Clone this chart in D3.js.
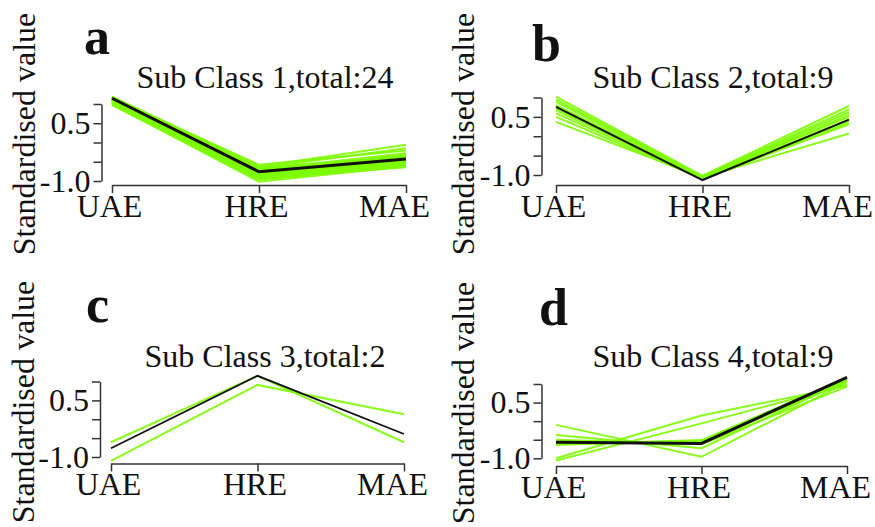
<!DOCTYPE html>
<html>
<head>
<meta charset="utf-8">
<script src="https://cdn.jsdelivr.net/npm/d3@7"></script>
<style>
  body { margin: 0; background: #fff; }
  svg { display: block; }
</style>
</head>
<body>
<div id="chart"></div>
<script>
// categories on the x axis
const categories = ['UAE', 'HRE', 'MAE'];
const yTicks = [-1, -0.5, 0, 0.5, 1];
const yTickLabels = { '0.5': '0.5', '-1': '-1.0' };

const titles = ['Sub Class 1,total:24', 'Sub Class 2,total:9', 'Sub Class 3,total:2', 'Sub Class 4,total:9'];
const panelLetters = ['a', 'b', 'c', 'd'];

// sub class 1 : 24 members, values read as [UAE, HRE, MAE]
const class1Lines = [
  [1.19, -0.62, -0.06], [1.17, -0.66, -0.15], [1.16, -0.58, -0.21], [1.15, -0.70, -0.28],
  [1.14, -0.74, -0.33], [1.13, -0.68, -0.37], [1.12, -0.77, -0.40], [1.11, -0.72, -0.42],
  [1.10, -0.80, -0.44], [1.09, -0.76, -0.45], [1.08, -0.83, -0.47], [1.07, -0.78, -0.49],
  [1.06, -0.85, -0.50], [1.05, -0.81, -0.52], [1.04, -0.90, -0.54], [1.03, -0.87, -0.56],
  [1.02, -0.93, -0.58], [1.00, -0.97, -0.60], [0.99, -1.02, -0.62], [0.97, -0.95, -0.64],
  [1.18, -0.65, -0.38], [1.13, -0.73, -0.46], [1.08, -0.79, -0.51], [1.01, -0.84, -0.30]
];
const class1Center = [1.15, -0.76, -0.43];

// sub class 2 : 9 members
const class2Lines = [
  [1.02, -1.02, 0.78], [0.95, -1.04, 0.69], [0.89, -1.05, 0.62],
  [0.80, -1.06, 0.55], [0.72, -1.07, 0.50], [0.67, -1.08, 0.42],
  [0.59, -1.09, 0.36], [0.50, -1.10, 0.31], [0.37, -1.06, 0.07]
];
const class2Center = [0.76, -1.13, 0.43];

// sub class 3 : 2 members
const class3Lines = [
  [-0.61, 1.15, -0.61],
  [-1.10, 0.91, 0.13]
];
const class3Center = [-0.77, 1.15, -0.39];

// sub class 4 : 9 members
const class4Lines = [
  [-0.10, -0.96, 1.05], [-0.37, -0.73, 1.10], [-0.64, -0.51, 1.15],
  [-1.00, 0.15, 0.95], [-1.06, -0.06, 0.98], [-0.57, -0.55, 1.18],
  [-0.55, -0.60, 1.12], [-0.60, -0.58, 1.08], [-0.50, -0.62, 0.93]
];
const class4Center = [-0.57, -0.60, 1.18];

const allLines = [class1Lines, class2Lines, class3Lines, class4Lines];
const allCenters = [class1Center, class2Center, class3Center, class4Center];

// layout of each panel (pixels)
const layout = [
  { x0: 112, x1: 406, axisY: 185, axisX: 101.5, yTop: 104, yBot: 181, titleX: 265, titleY: 88, letterX: 84, letterY: 54, labelX: 35, labelY: 134, centerW: 3 },
  { x0: 556, x1: 849, axisY: 185, axisX: 541.5, yTop: 97.5, yBot: 175, titleX: 713, titleY: 88, letterX: 532, letterY: 61, labelX: 474, labelY: 134, centerW: 2 },
  { x0: 111, x1: 404, axisY: 463.5, axisX: 100, yTop: 381.5, yBot: 457, titleX: 265, titleY: 367, letterX: 86, letterY: 322, labelX: 34, labelY: 402, centerW: 1.8 },
  { x0: 556, x1: 847, axisY: 466, axisX: 541.5, yTop: 384, yBot: 458.3, titleX: 713, titleY: 367, letterX: 539, letterY: 325, labelX: 474, labelY: 403, centerW: 3 }
];
// small nudges of the x tick labels so the last one stays inside the page
const xLabelShift = { UAE: -3, HRE: -3, MAE: -12 };

const W = 875, H = 527;
const serif = '"Liberation Serif", "DejaVu Serif", serif';
const green = '#7CFC00';
const axisColor = '#333';

const svg = d3.select('#chart').append('svg')
  .attr('width', W)
  .attr('height', H);

layout.forEach((p, i) => {
  const g = svg.append('g').attr('class', 'panel');

  const x = d3.scalePoint().domain(categories).range([p.x0, p.x1]);
  const y = d3.scaleLinear().domain([-1, 1]).range([p.yBot, p.yTop]);

  // y axis
  g.append('g')
    .attr('transform', `translate(${p.axisX},0)`)
    .call(d3.axisLeft(y)
      .tickValues(yTicks)
      .tickSize(8)
      .tickSizeOuter(0)
      .tickPadding(3)
      .tickFormat(d => yTickLabels[String(d)] || ''))
    .call(a => a.selectAll('path, line').attr('stroke', axisColor).attr('stroke-width', 1.5))
    .call(a => a.selectAll('text')
      .attr('fill', '#111')
      .style('font-family', serif)
      .style('font-size', '32px'));

  // x axis
  g.append('g')
    .attr('transform', `translate(0,${p.axisY})`)
    .call(d3.axisBottom(x)
      .tickSize(8)
      .tickSizeOuter(0)
      .tickPadding(1))
    .call(a => a.selectAll('path, line').attr('stroke', axisColor).attr('stroke-width', 1.5))
    .call(a => a.selectAll('text')
      .attr('fill', '#111')
      .attr('dx', d => xLabelShift[d])
      .style('font-family', serif)
      .style('font-size', '32px'));

  const line = d3.line()
    .x((d, j) => x(categories[j]))
    .y(d => y(d));

  g.append('g')
    .selectAll('path')
    .data(allLines[i])
    .enter()
    .append('path')
    .attr('d', line)
    .attr('fill', 'none')
    .attr('stroke', green)
    .attr('stroke-width', 2)
    .attr('stroke-opacity', 0.9);

  g.append('path')
    .datum(allCenters[i])
    .attr('d', line)
    .attr('fill', 'none')
    .attr('stroke', '#111')
    .attr('stroke-width', p.centerW);

  // title
  g.append('text')
    .attr('x', p.titleX)
    .attr('y', p.titleY)
    .attr('text-anchor', 'middle')
    .style('font-family', serif)
    .style('font-size', '32px')
    .style('fill', '#111')
    .text(titles[i]);

  // panel letter
  g.append('text')
    .attr('x', p.letterX)
    .attr('y', p.letterY)
    .style('font-family', serif)
    .style('font-size', '52px')
    .style('font-weight', '700')
    .style('fill', '#111')
    .text(panelLetters[i]);

  // y axis label
  g.append('text')
    .attr('transform', `translate(${p.labelX},${p.labelY}) rotate(-90)`)
    .attr('text-anchor', 'middle')
    .style('font-family', serif)
    .style('font-size', '32px')
    .style('fill', '#111')
    .text('Standardised value');
});
</script>
</body>
</html>
